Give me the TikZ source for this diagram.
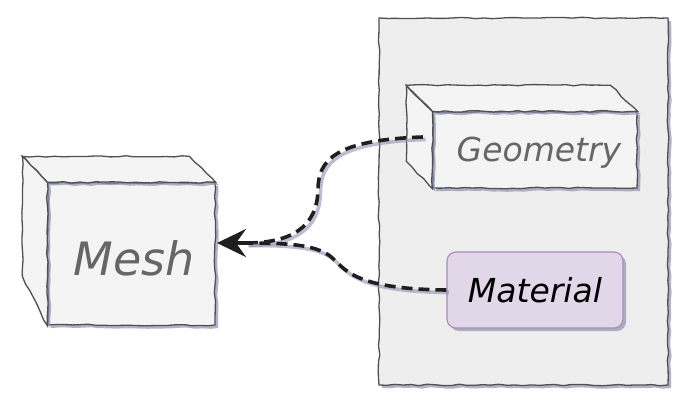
\documentclass[tikz,border=0pt]{standalone}
\usepackage{fontspec}
\usepackage{tikz}
\usetikzlibrary{arrows.meta,shadows,decorations.pathmorphing}
\newfontfamily\diafont{DejaVu Sans}
\definecolor{boxline}{HTML}{505050}
\definecolor{boxfill}{HTML}{F4F4F4}
\definecolor{packfill}{HTML}{EEEEEE}
\definecolor{matfill}{HTML}{E2D6E9}
\definecolor{matline}{HTML}{A88BB8}
\definecolor{shade}{HTML}{8F93B0}
\tikzset{
  sketch/.style={decorate,decoration={random steps,segment length=8pt,amplitude=0.8pt}},
  shad/.style={drop shadow={shadow xshift=3pt,shadow yshift=-3pt,fill=shade,opacity=0.7}},
  face/.style={draw=boxline,fill=boxfill,line width=1.3pt,sketch,shad},
  wire/.style={line width=3.6pt,dash pattern=on 11pt off 6pt,black!88,
    preaction={draw=shade,opacity=0.6,line width=3.6pt,transform canvas={xshift=2.5pt,yshift=-2.5pt}}}
}
\begin{document}
\begin{tikzpicture}[x=1pt,y=-1pt]
       \useasboundingbox (0,0) rectangle (700,417);
       % package
       \draw[face,fill=packfill] (379,18) rectangle (668,385);
       % mesh cube
       \node[face,minimum width=167pt,minimum height=142pt,inner sep=0pt] (mesh) at (131.5,254) {};
       \draw[face] (mesh.north west) -- ++(-25,-26) -- ++(167,0) -- (mesh.north east) -- cycle;
       \draw[face] (mesh.north west) -- ++(-25,-26) -- ++(0,120) -- (mesh.south west) -- cycle;
       \node[text=black!60] at (134,258) {\diafont\itshape\fontsize{46}{50}\selectfont Mesh};
       % geometry cube
       \node[face,minimum width=204pt,minimum height=76pt,inner sep=0pt] (geo) at (535,150) {};
       \draw[face] (geo.north west) -- ++(-26,-26) -- ++(204,0) -- (geo.north east) -- cycle;
       \draw[face] (geo.north west) -- ++(-26,-26) -- ++(0,76) -- (geo.south west) -- cycle;
       \node[text=black!60] at (539,153) {\diafont\itshape\fontsize{33}{36}\selectfont Geometry};
       % material
       \node[draw=matline,fill=matfill,line width=1.1pt,rounded corners=9pt,shad,
             minimum width=176pt,minimum height=76pt] (mat) at (535,290)
             {\diafont\itshape\fontsize{33}{36}\selectfont Material};
       \coordinate (geoin) at (423,137); \coordinate (meshin) at (217,243);
       \draw[wire] (geoin) .. controls (335,140) and (318,160) .. (318,190)
              .. controls (317,228) and (290,243) .. (246,243);
       \draw[wire] (mat.west) .. controls (350,289) and (345,268) .. (330,256)
              .. controls (315,245) and (290,243) .. (246,243);
       \draw[line width=3.6pt,black!88,-{Stealth[length=29pt,width=28pt,inset=10pt]}] (248,243) -- (meshin);
\end{tikzpicture}
\end{document}
